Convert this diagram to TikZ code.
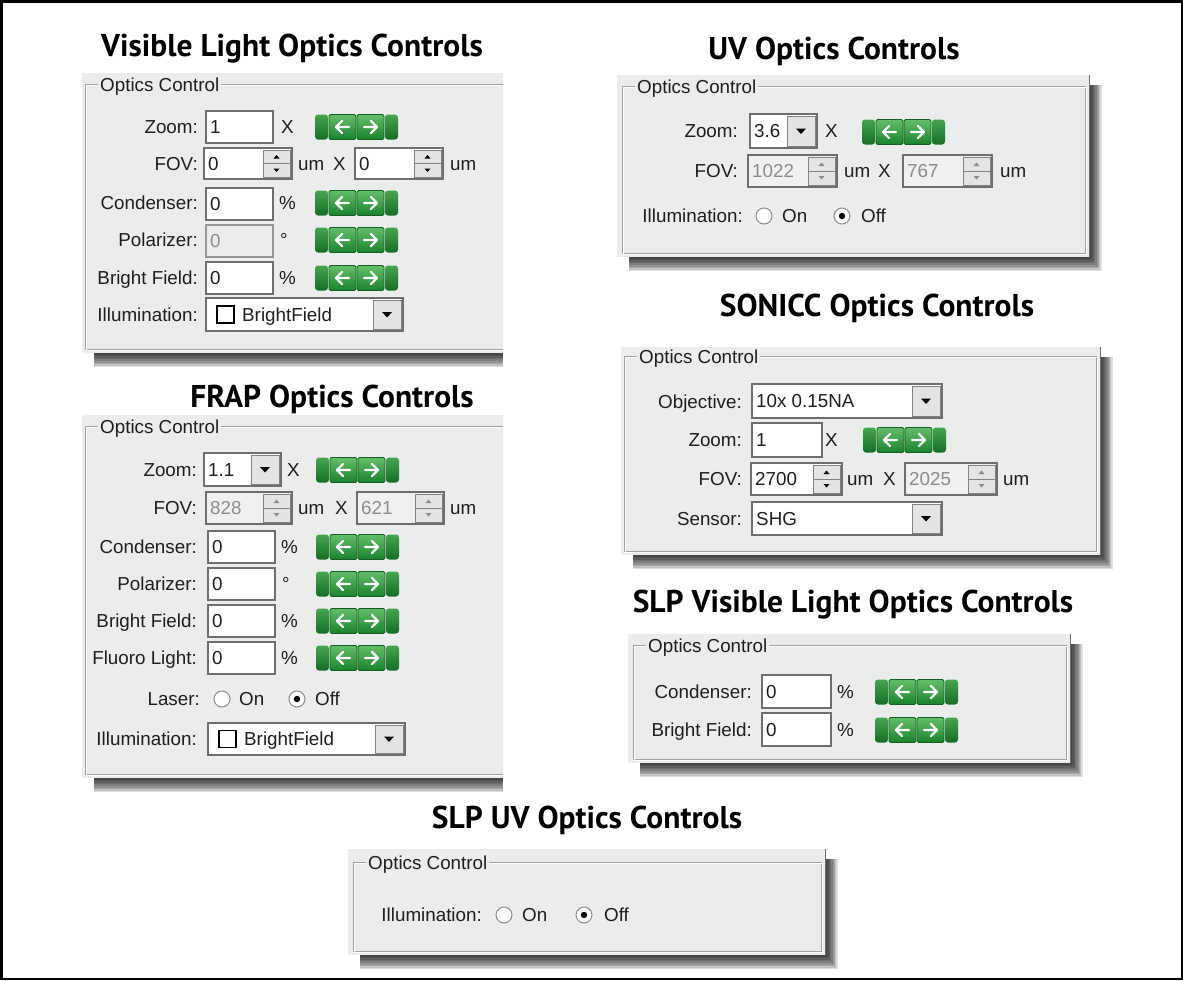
\documentclass[tikz,border=0pt]{standalone}
\usepackage{fontspec}
\setmainfont{Liberation Sans}
\newfontfamily\ttlfont{PT Sans}
\definecolor{panelbg}{RGB}{235,236,236}
\definecolor{uitext}{RGB}{30,30,30}
\definecolor{distext}{RGB}{140,140,140}
\definecolor{boxdk}{RGB}{110,110,110}
\definecolor{boxdis}{RGB}{150,150,150}
\definecolor{btnbg}{RGB}{228,228,228}
\definecolor{btnbd}{RGB}{130,130,130}
\definecolor{frdk}{RGB}{160,160,160}
\definecolor{radbd}{RGB}{140,140,140}
\definecolor{gL}{RGB}{100,190,105}
\definecolor{gD}{RGB}{25,130,45}
\definecolor{gcL}{RGB}{70,165,80}
\definecolor{gcD}{RGB}{20,110,38}
\definecolor{gB}{RGB}{18,95,32}
\newcounter{nd}
\newcommand\nn{\stepcounter{nd}}
\tikzset{
  ui/.style={font=\fontsize{18.8}{22}\selectfont, inner sep=0pt, text=uitext},
  ttl/.style={font=\ttlfont\bfseries\fontsize{31.5}{36}\selectfont, inner sep=0pt, anchor=base, text=black},
}
% label right-aligned at x, row centre y
\newcommand\lbl[3]{\nn\node[ui,anchor=base east] (n\arabic{nd}) at ({#1},{#2+6.5}) {#3};}
% text left-aligned
\newcommand\txt[3]{\nn\node[ui,anchor=base west] (n\arabic{nd}) at ({#1},{#2+6.5}) {#3};}
% enabled text box
\newcommand\tbox[5]{%
  \draw[fill=white, draw=boxdk, line width=1.5] (#1,#2) rectangle (#3,#4);
  \nn\node[ui,anchor=base west] (n\arabic{nd}) at ({#1+4},{(#2+#4)/2+6.5}) {#5};}
% disabled text box
\newcommand\dbox[5]{%
  \draw[fill=panelbg, draw=boxdis, line width=1.5] (#1,#2) rectangle (#3,#4);
  \nn\node[ui,anchor=base west,text=distext] (n\arabic{nd}) at ({#1+4},{(#2+#4)/2+6.5}) {#5};}
% spin box: x1 y1 x2 y2 text textcolor fill arrowcolor
\newcommand\spinbase[8]{%
  \draw[fill=#7, draw=boxdk, line width=1.5] (#1,#2) rectangle (#3,#4);
  \draw[fill=btnbg, draw=btnbd, line width=0.8] ({#3-29},{#2+2}) rectangle ({#3-2},{(#2+#4)/2});
  \draw[fill=btnbg, draw=btnbd, line width=0.8] ({#3-29},{(#2+#4)/2}) rectangle ({#3-2},{#4-2});
  \fill[#8] ({#3-18.5},{(#2+#4)/2-5}) -- ({#3-12.5},{(#2+#4)/2-5}) -- ({#3-15.5},{(#2+#4)/2-8.5}) -- cycle;
  \fill[#8] ({#3-18.5},{(#2+#4)/2+5}) -- ({#3-12.5},{(#2+#4)/2+5}) -- ({#3-15.5},{(#2+#4)/2+8.5}) -- cycle;
  \nn\node[ui,anchor=base west,text=#6] (n\arabic{nd}) at ({#1+4},{(#2+#4)/2+6.5}) {#5};}
\newcommand\spin[5]{\spinbase{#1}{#2}{#3}{#4}{#5}{uitext}{white}{black}}
\newcommand\dspin[5]{\spinbase{#1}{#2}{#3}{#4}{#5}{distext}{white!94!black}{distext}}
% combo box
\newcommand\combo[5]{%
  \draw[fill=white, draw=boxdk, line width=1.5] (#1,#2) rectangle (#3,#4);
  \draw[fill=btnbg, draw=btnbd, line width=1] ({#3-30},{#2+2}) rectangle ({#3-2},{#4-2});
  \fill[black] ({#3-21},{(#2+#4)/2-2.5}) -- ({#3-11},{(#2+#4)/2-2.5}) -- ({#3-16},{(#2+#4)/2+3}) -- cycle;
  \nn\node[ui,anchor=base west] (n\arabic{nd}) at ({#1+4},{(#2+#4)/2+6.5}) {#5};}
% illumination combo with check box
\newcommand\illcombo[4]{%
  \combo{#1}{#2}{#3}{#4}{}
  \draw[fill=white, draw=black, line width=1.3] ({#1+11},{(#2+#4)/2-8.5}) rectangle ({#1+28},{(#2+#4)/2+8.5});
  \nn\node[ui,anchor=base west] (n\arabic{nd}) at ({#1+36},{(#2+#4)/2+6.5}) {BrightField};}
% radio button
\newcommand\radio[3]{%
  \nn\node[circle, minimum size=16pt, inner sep=0pt, fill=white, draw=radbd, line width=1] (n\arabic{nd}) at (#1,#2) {};
  \ifnum#3=1 \fill[black] (#1,#2) circle (3.2); \fi}
% green arrow button group: left x, centre y
\newcommand\gbtn[2]{%
  \begin{scope}[shift={(#1,#2)}]
    \shade[top color=gcL, bottom color=gcD, rounded corners=3] (0,-12.5) rectangle (13,12.5);
    \shade[top color=gL, bottom color=gD, rounded corners=1.5] (14,-12.5) rectangle (41,12.5);
    \draw[gB, line width=0.8, rounded corners=1.5] (14,-12.5) rectangle (41,12.5);
    \shade[top color=gL, bottom color=gD, rounded corners=1.5] (42,-12.5) rectangle (69,12.5);
    \draw[gB, line width=0.8, rounded corners=1.5] (42,-12.5) rectangle (69,12.5);
    \shade[top color=gcL, bottom color=gcD, rounded corners=3] (70,-12.5) rectangle (83,12.5);
    \draw[white, line width=2.2, line cap=round, line join=round] (34,0) -- (21,0) (27,-6) -- (21,0) -- (27,6);
    \draw[white, line width=2.2, line cap=round, line join=round] (49,0) -- (62,0) (56,-6) -- (62,0) -- (56,6);
  \end{scope}}
% shadow for a panel with visible right side
\newcommand\shadowR[4]{%
  \foreach \i in {1,...,9} {\fill[black,opacity=0.13] ({#1+12},{#2+10}) rectangle ({#3+1.3*\i},{#4+1.6*\i});}}
% shadow for panel clipped on the right
\newcommand\shadowB[4]{%
  \foreach \i in {1,...,9} {\fill[black,opacity=0.13] ({#1+12},{#2+10}) rectangle ({#3},{#4+1.6*\i});}}
% group frame
\newcommand\gframe[4]{%
  \draw[frdk, line width=1] (#1,#2) rectangle (#3,#4);
  \draw[white, line width=1] ({#1+1},{#2+1}) rectangle ({#3+1},{#4+1});
  \nn\node[ui, anchor=base west, fill=panelbg, inner xsep=2pt] (n\arabic{nd}) at ({#1+13},{#2+7}) {Optics Control};}

\begin{document}
\begin{tikzpicture}[x=1pt,y=-1pt]
\useasboundingbox (0,0) rectangle (1183,980);
\fill[white] (0,0) rectangle (1183,980);
\draw[line width=2.5] (1.25,1.25) rectangle (1181.75,978.75);

% ---------- Titles ----------
\node[ttl] (t1) at (292,56) {Visible Light Optics Controls};
\node[ttl] (t2) at (834,59) {UV Optics Controls};
\node[ttl] (t3) at (877,316) {SONICC Optics Controls};
\node[ttl] (t4) at (332,407) {FRAP Optics Controls};
\node[ttl] (t5) at (853,612) {SLP Visible Light Optics Controls};
\node[ttl] (t6) at (587,828) {SLP UV Optics Controls};

% ---------- Panel 1: Visible light ----------
\shadowB{82}{73}{503}{353}
\begin{scope}
  \clip (82,73) rectangle (503,353);
  \fill[panelbg] (82,73) rectangle (503,353);
  \gframe{85}{84}{540}{349}
\end{scope}
\lbl{198}{127}{Zoom:}        \tbox{206}{111}{273}{143}{1}   \txt{281}{127}{X}  \gbtn{315}{127}
\lbl{198}{164}{FOV:}         \spin{204}{148}{292}{179}{0}   \txt{298}{164}{um} \txt{333}{164}{X}
                             \spin{355}{148}{443}{179}{0}   \txt{450}{164}{um}
\lbl{198}{203}{Condenser:}   \tbox{206}{188}{273}{220}{0}   \txt{279}{203}{\%} \gbtn{315}{203}
\lbl{198}{240}{Polarizer:}   \dbox{206}{225}{273}{257}{0}   \txt{280}{240}{°}  \gbtn{315}{240}
\lbl{198}{278}{Bright Field:}\tbox{206}{262}{273}{294}{0}   \txt{279}{278}{\%} \gbtn{315}{278}
\lbl{198}{315}{Illumination:}\illcombo{206}{298}{403}{331}

% ---------- Panel 2: FRAP ----------
\shadowB{82}{415}{503}{778}
\begin{scope}
  \clip (82,415) rectangle (503,778);
  \fill[panelbg] (82,415) rectangle (503,778);
  \gframe{85}{426}{540}{774}
\end{scope}
\lbl{197}{470}{Zoom:}         \combo{204}{453}{281}{486}{1.1} \txt{287}{470}{X} \gbtn{316}{470}
\lbl{197}{508}{FOV:}          \dspin{206}{492}{292}{524}{828} \txt{298}{508}{um} \txt{335}{508}{X}
                              \dspin{357}{492}{444}{524}{621} \txt{450}{508}{um}
\lbl{197}{547}{Condenser:}    \tbox{208}{531}{275}{563}{0} \txt{281}{547}{\%} \gbtn{316}{547}
\lbl{197}{584}{Polarizer:}    \tbox{208}{568}{275}{600}{0} \txt{282}{584}{°}  \gbtn{316}{584}
\lbl{197}{621}{Bright Field:} \tbox{208}{605}{275}{637}{0} \txt{281}{621}{\%} \gbtn{316}{621}
\lbl{197}{658}{Fluoro Light:} \tbox{208}{642}{275}{674}{0} \txt{281}{658}{\%} \gbtn{316}{658}
\lbl{200}{699}{Laser:} \radio{222}{699}{0} \txt{239}{699}{On} \radio{297}{699}{1} \txt{315}{699}{Off}
\lbl{197}{739}{Illumination:} \illcombo{208}{723}{405}{755}

% ---------- Panel 3: UV ----------
\shadowR{617}{75}{1090}{257}
\fill[panelbg] (617,75) rectangle (1090,257);
\draw[boxdk, line width=1.5] (1089.25,75) -- (1089.25,257);
\gframe{622}{86}{1085}{253}
\lbl{738}{131}{Zoom:} \combo{750}{114}{817}{148}{3.6} \txt{825}{131}{X} \gbtn{862}{132}
\lbl{738}{171}{FOV:}  \dspin{748}{155}{837}{187}{1022} \txt{844}{171}{um} \txt{878}{171}{X}
                      \dspin{903}{155}{992}{187}{767}  \txt{1000}{171}{um}
\lbl{743}{216}{Illumination:} \radio{764}{216}{0} \txt{782}{216}{On} \radio{842}{216}{1} \txt{861}{216}{Off}

% ---------- Panel 4: SONICC ----------
\shadowR{621}{347}{1101}{555}
\fill[panelbg] (621,347) rectangle (1101,555);
\draw[boxdk, line width=1.5] (1100.25,347) -- (1100.25,555);
\gframe{624}{356}{1096}{551}
\lbl{742}{402}{Objective:} \combo{752}{384}{942}{418}{10x 0.15NA}
\lbl{742}{440}{Zoom:}      \tbox{752}{423}{822}{457}{1} \txt{825}{440}{X} \gbtn{863}{440}
\lbl{742}{479}{FOV:}       \spin{751}{463}{842}{495}{2700} \txt{847}{479}{um} \txt{883}{479}{X}
                           \dspin{905}{463}{997}{495}{2025} \txt{1003}{479}{um}
\lbl{742}{519}{Sensor:}    \combo{752}{502}{942}{535}{SHG}

% ---------- Panel 5: SLP Visible ----------
\shadowR{628}{634}{1071}{763}
\fill[panelbg] (628,634) rectangle (1071,763);
\draw[boxdk, line width=1.5] (1070.25,634) -- (1070.25,763);
\gframe{633}{645}{1066}{759}
\lbl{752}{692}{Condenser:}    \tbox{762}{675}{831}{708}{0} \txt{837}{692}{\%} \gbtn{875}{692}
\lbl{752}{730}{Bright Field:} \tbox{762}{713}{831}{746}{0} \txt{837}{730}{\%} \gbtn{875}{730}

% ---------- Panel 6: SLP UV ----------
\shadowR{348}{849}{826}{955}
\fill[panelbg] (348,849) rectangle (826,955);
\draw[boxdk, line width=1.5] (825.25,849) -- (825.25,955);
\gframe{353}{862}{821}{951}
\lbl{482}{915}{Illumination:} \radio{504}{915}{0} \txt{522}{915}{On} \radio{584}{915}{1} \txt{604}{915}{Off}
\end{tikzpicture}
\end{document}
